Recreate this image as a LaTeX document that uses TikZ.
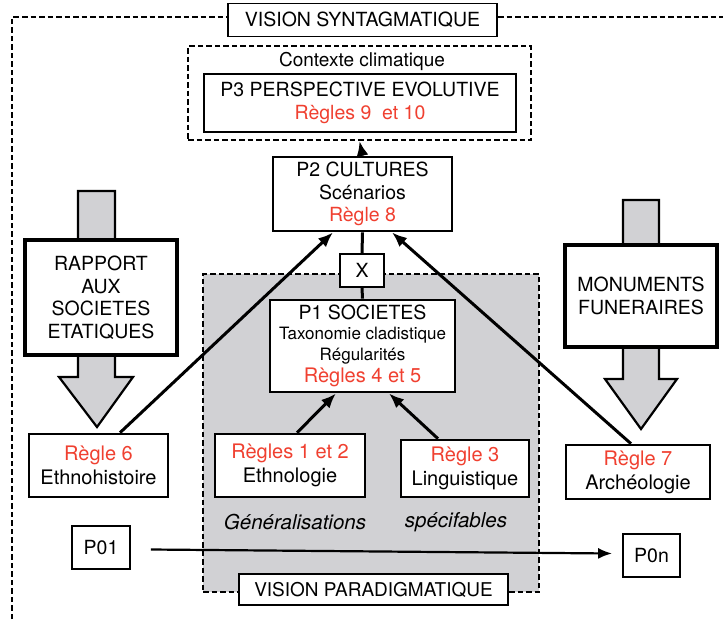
\documentclass[tikz,border=0pt]{standalone}
\usepackage{fontspec}
\setmainfont{TeX Gyre Heros}
\usetikzlibrary{arrows.meta,calc}
\definecolor{rred}{RGB}{240,64,48}
\definecolor{rgray}{RGB}{209,209,212}
\tikzset{
  bx/.style={draw=black, fill=white, line width=#1, inner sep=0pt, align=center,
    font=\fontsize{19.5}{22.5}\selectfont},
  bx/.default=2pt,
  frame/.style={draw=black, line width=1.8pt, dash pattern=on 5.5pt off 3pt},
  arr/.style={line width=3pt, -{Latex[length=15pt,width=12pt]}},
  bigarrow/.style={draw=black, fill=rgray, line width=2.2pt, line join=miter},
}
\newcommand{\rr}[1]{\textcolor{rred}{#1}}
\begin{document}
\begin{tikzpicture}[x=1pt,y=-1pt]
\useasboundingbox (0,0) rectangle (723,619);
\fill[white] (0,0) rectangle (723,619);
% paradigmatic region
\node[frame, fill=rgray, minimum width=336pt, minimum height=318pt, inner sep=0pt] (para) at (371,433) {};
% outer syntagmatic frame
\draw[frame] (12,619) -- (12,17) -- (723,17);
% context frame
\node[frame, minimum width=343pt, minimum height=94pt, inner sep=0pt] (ctx) at (359.5,93) {};
\node[font=\fontsize{19}{20}\selectfont, inner sep=0pt] (ctxt) at (362,61) {Contexte climatique};
% big grey arrows
\draw[bigarrow] (78,191) -- (115,191) -- (115,377) -- (133,377) -- (97,427) -- (59,377) -- (78,377) -- cycle;
\draw[bigarrow] (623,200) -- (659,200) -- (659,379) -- (677,379) -- (641,429) -- (605,379) -- (623,379) -- cycle;
% boxes
\node[bx=1.3pt, minimum width=269pt, minimum height=33pt] (vs) at (362.5,20) {VISION SYNTAGMATIQUE};
\node[bx=2.8pt, minimum width=312pt, minimum height=58pt] (p3) at (360,103) {P3 PERSPECTIVE EVOLUTIVE\\ \rr{Règles 9\ \ et 10}};
\node[bx=2.8pt, minimum width=179pt, minimum height=74pt] (p2) at (362.5,194) {P2 CULTURES\\ Scénarios\\ \rr{Règle 8}};
\node[bx=1.3pt, minimum width=44pt, minimum height=33pt] (xx) at (362,270.5) {X};
\node[bx=2.8pt, minimum width=185pt, minimum height=92pt] (p1) at (362.5,346) {P1 SOCIETES\\[-2pt] {\fontsize{17}{22}\selectfont Taxonomie cladistique}\\[-2pt] {\fontsize{17}{22}\selectfont Régularités}\\ {\fontsize{20}{22}\selectfont\rr{Règles 4 et 5}}};
\node[bx=2.6pt, minimum width=150pt, minimum height=63pt, font=\fontsize{20}{24}\selectfont] (r12) at (290,465.5) {\rr{Règles 1 et 2}\\ Ethnologie};
\node[bx=2.6pt, minimum width=128pt, minimum height=57pt, font=\fontsize{20}{24}\selectfont] (r3) at (465,468.5) {\rr{Règle 3}\\ Linguistique};
\node[bx=2.6pt, minimum width=139pt, minimum height=63pt, font=\fontsize{20}{24}\selectfont] (r6) at (98.5,465.5) {\rr{Règle 6}\\ Ethnohistoire};
\node[bx=2.6pt, minimum width=144pt, minimum height=54pt, font=\fontsize{20}{24}\selectfont] (r7) at (638,472) {\rr{Règle 7}\\ Archéologie};
\node[bx=3.2pt, minimum width=152pt, minimum height=115pt] (rap) at (101,297.5) {RAPPORT\\ AUX\\ SOCIETES\\ ETATIQUES};
\node[bx=3.2pt, minimum width=152pt, minimum height=102pt] (mon) at (641,296) {MONUMENTS\\ FUNERAIRES};
\node[bx=1.8pt, minimum width=58pt, minimum height=43pt] (p01) at (101,547.5) {P01};
\node[bx=1.8pt, minimum width=57pt, minimum height=43pt] (p0n) at (651.5,555.5) {P0n};
\node[bx=1.3pt, minimum width=269pt, minimum height=31pt, font=\fontsize{19}{22}\selectfont] (vp) at (373.5,589.5) {VISION PARADIGMATIQUE};
\node[font=\fontsize{20.5}{22}\selectfont\itshape, inner sep=0pt] (gen) at (295,522) {Généralisations};
\node[font=\fontsize{20.5}{22}\selectfont\itshape, inner sep=0pt] (spec) at (456,522) {spécifables};
% connectors
\draw[arr] (p2.north) -- (ctx.south);
\draw[line width=3pt] (p2.south) -- (xx.north);
\draw[line width=3pt] (xx.south) -- (p1.north);
\draw[arr] ([xshift=21.5pt]r6.north) -- ([xshift=-29.5pt]p2.south);
\draw[arr] ([xshift=-7pt]r7.north) -- ([xshift=29.5pt]p2.south);
\draw[arr] ([xshift=7pt]r12.north) -- ([xshift=-26.5pt]p1.south);
\draw[arr] ([xshift=-27pt]r3.north) -- ([xshift=26.5pt]p1.south);
\draw[line width=2.2pt, -{Latex[length=14pt,width=11pt]}] ([xshift=20pt,yshift=-2pt]p01.east) -- ([xshift=-10pt,yshift=2pt]p0n.west);
\end{tikzpicture}
\end{document}
